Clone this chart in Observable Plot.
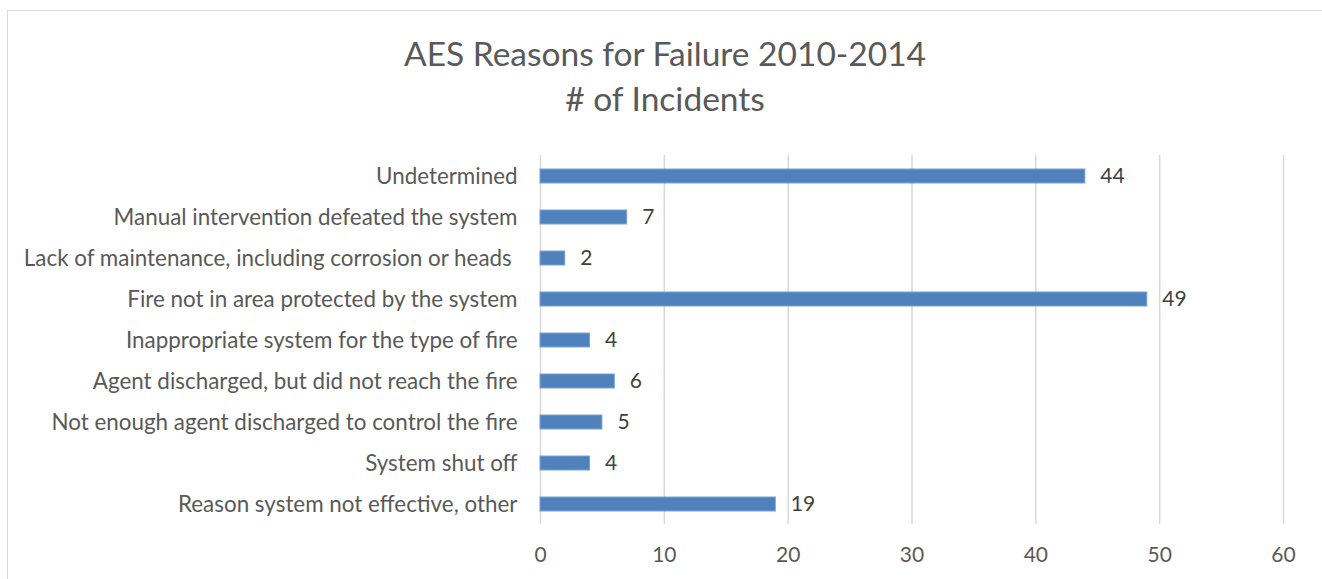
<!DOCTYPE html>
<html>
<head>
<meta charset="utf-8">
<script src="https://cdn.jsdelivr.net/npm/d3@7"></script>
<script src="https://cdn.jsdelivr.net/npm/@observablehq/plot@0.6"></script>
<style>
  html, body { margin: 0; padding: 0; background: #fff; }
  #wrap { position: relative; width: 1322px; height: 579px; overflow: hidden; font-family: Lato, "Noto Sans", sans-serif; }
  #border { position: absolute; left: 7px; top: 10px; width: 1400px; height: 700px; border: 1.5px solid #d9d9d9; box-sizing: border-box; }
  #title { position: absolute; left: 0; width: 1330px; top: 31px; text-align: center; font-size: 33.5px; line-height: 45px; color: #595959; }
  #chart { position: absolute; left: 0; top: 0; }
  #chart svg text { white-space: pre; }
</style>
</head>
<body>
<div id="wrap">
  <div id="border"></div>
  <div id="title">AES Reasons for Failure 2010-2014<br># of Incidents</div>
  <div id="chart"></div>
</div>
<script>
const categories = [
  "Undetermined",
  "Manual intervention defeated the system",
  "Lack of maintenance, including corrosion or heads ",
  "Fire not in area protected by the system",
  "Inappropriate system for the type of fire",
  "Agent discharged, but did not reach the fire",
  "Not enough agent discharged to control the fire",
  "System shut off",
  "Reason system not effective, other"
];
const values = [44, 7, 2, 49, 4, 6, 5, 4, 19];
const xTicks = [0, 10, 20, 30, 40, 50, 60];

const data = categories.map((c, i) => ({category: c, value: values[i]}));

const plot = Plot.plot({
  width: 1322,
  height: 579,
  marginLeft: 540,
  marginRight: 39,
  marginTop: 155,
  marginBottom: 55,
  style: {fontFamily: "Lato, 'Noto Sans', sans-serif", fontSize: "21px", color: "#595959", background: "transparent"},
  x: {domain: [0, 60], ticks: xTicks, grid: false, label: null},
  y: {domain: categories, paddingInner: 0.66, paddingOuter: 0.33, label: null},
  marks: [
    Plot.ruleX(xTicks, {stroke: "#d9d9d9", strokeWidth: 1.5, strokeOpacity: 1}),
    Plot.barX(data, {x: "value", y: "category", fill: "#4f81bd", stroke: "#7aa1d2", strokeWidth: 1}),
    Plot.text(data, {x: "value", y: "category", text: d => String(d.value), textAnchor: "start", dx: 15, fill: "#404040", fontSize: 21}),
    Plot.axisX({ticks: xTicks, tickSize: 0, tickPadding: 23, fontSize: 21, fill: "#595959", label: null}),
    Plot.axisY({tickSize: 0, tickPadding: 23, fontSize: 22.4, fill: "#595959", label: null})
  ]
});
document.getElementById("chart").appendChild(plot);
</script>
</body>
</html>
